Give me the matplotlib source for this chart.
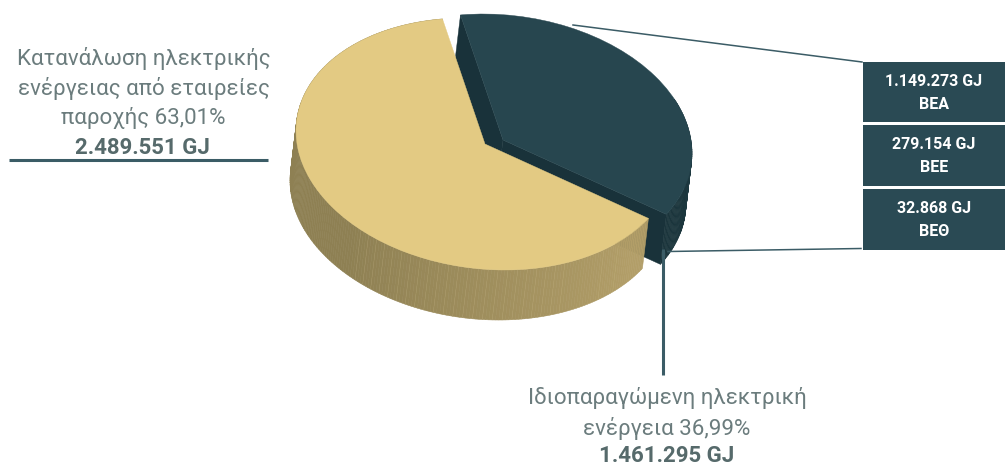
import numpy as np
import matplotlib
matplotlib.use("Agg")
import matplotlib.pyplot as plt
from matplotlib.patches import Wedge, Polygon, Rectangle
from matplotlib.transforms import Affine2D
from matplotlib.colors import to_rgb

# ---------- data ----------
shares = [63.01, 36.99]
slice_colors = ['#e3ca83', '#27464f']
left_label = ['Κατανάλωση ηλεκτρικής', 'ενέργειας από εταιρείες', 'παροχής 63,01%']
left_value = '2.489.551 GJ'
bottom_label = ['Ιδιοπαραγώμενη ηλεκτρική', 'ενέργεια 36,99%']
bottom_value = '1.461.295 GJ'
box_values = ['1.149.273 GJ', '279.154 GJ', '32.868 GJ']
box_names = ['ΒΕΑ', 'ΒΕΕ', 'ΒΕΘ']

# ---------- layout (pixels) ----------
W, H = 1005, 465
CX, CY = 485, 144          # apex of the yellow slice
RX, RY, SKEW = 189, 125.3, 13.2
DEPTH = np.array([-6, 50])
EXPLODE = (18, -4)
START = 103
GREY = '#566a6b'
GREY_LIGHT = '#6b7c7d'
LINE = '#3b5c66'
BOX = '#2a4a54'
FONT = 'Roboto'

fig = plt.figure(figsize=(W / 100, H / 100), dpi=100)
ax = fig.add_axes([0, 0, 1, 1])
ax.set_xlim(0, W)
ax.set_ylim(H, 0)
ax.axis('off')


def project(theta, center):
    t = np.radians(theta)
    u, v = np.cos(t), np.sin(t)
    return np.array([center[0] + RX * u, center[1] + SKEW * u - RY * v])


def top_wedge(center, t1, t2, color, z):
    tr = Affine2D.from_values(RX, SKEW, 0, -RY, center[0], center[1]) + ax.transData
    w = Wedge((0, 0), 1, t1, t2, facecolor=color, edgecolor=color, lw=0.3, transform=tr, zorder=z)
    ax.add_patch(w)


def wall(center, t1, t2, color_fn, z, step=1.0):
    th = np.arange(t1, t2 + step, step)
    for a, b in zip(th[:-1], th[1:]):
        p, q = project(a, center), project(min(b, t2), center)
        c = color_fn(a)
        ax.add_patch(Polygon([p, q, q + DEPTH, p + DEPTH], closed=True, facecolor=c,
                             edgecolor=c, lw=0.4, zorder=z))


def seam(center, theta, color, alpha, z):
    p = project(theta, center)
    ax.plot([p[0], p[0] + DEPTH[0]], [p[1], p[1] + DEPTH[1]], color=color,
            lw=0.4, alpha=alpha, zorder=z)


def yellow_shade(theta):
    f = np.clip((theta - 225) / (322 - 225), 0, 1)
    a, b = np.array(to_rgb('#8e8053')), np.array(to_rgb('#b29e68'))
    return tuple(a + (b - a) * f)


# ---------- pie ----------
sweep = 360 * shares[0] / sum(shares)
end = START + sweep
dark_center = (CX + EXPLODE[0], CY + EXPLODE[1])
apex_d = np.array(dark_center)
dark_wall = '#19323a'

# dark slice: inner walls, outer wall, top
for t in (START, end):
    p = project(t, dark_center)
    ax.add_patch(Polygon([apex_d, p, p + DEPTH, apex_d + DEPTH], closed=True,
                         facecolor=dark_wall, edgecolor=dark_wall, lw=0.3, zorder=1))
wall(dark_center, end, 385, lambda t: '#1b353c', 1)
for t in np.arange(end + 3, 362, 3):
    seam(dark_center, t, '#27464f', 0.25, 1.5)
top_wedge(dark_center, end, START + 360, slice_colors[1], 2)

# connector lines sit behind the yellow slice but over the dark one
ax.plot([573, 862], [25, 62], color=LINE, lw=1.1, zorder=3)
ax.plot([668, 861], [251.5, 248.5], color=LINE, lw=1.1, zorder=3)

# yellow slice
wall((CX, CY), START, end, yellow_shade, 4)
for t in np.append(np.arange(229, 296, 3), [309, 315]):
    seam((CX, CY), t, '#d9c690', 0.22, 4.5)
top_wedge((CX, CY), START, end, slice_colors[0], 5)

# ---------- leader lines ----------
ax.plot([663, 663], [249, 375], color=LINE, lw=2.2, solid_capstyle='butt', zorder=6)
ax.plot([9, 268], [160.5, 160.5], color=LINE, lw=2.2, solid_capstyle='butt', zorder=6)

# ---------- boxes ----------
box_tops = [62, 125, 189]
for top, val, name in zip(box_tops, box_values, box_names):
    ax.add_patch(Rectangle((863, top), 142, 60.5, facecolor=BOX, edgecolor='none', zorder=6))
    ax.text(934, top + 19, val, ha='center', va='center', color='white', fontsize=11.5,
            family=FONT, weight='bold', zorder=7)
    ax.text(934, top + 42.5, name, ha='center', va='center', color='white', fontsize=11.5,
            family=FONT, weight='bold', zorder=7)

# ---------- labels ----------
for y, s in zip([59, 88, 118], left_label):
    ax.text(143.5, y, s, ha='center', va='center', color=GREY_LIGHT, fontsize=16,
            family=FONT, weight='normal')
ax.text(142, 147.5, left_value, ha='center', va='center', color=GREY, fontsize=16,
        family=FONT, weight='bold')
for y, s in zip([398, 428], bottom_label):
    ax.text(667, y, s, ha='center', va='center', color=GREY_LIGHT, fontsize=16,
            family=FONT, weight='normal')
ax.text(667, 455.5, bottom_value, ha='center', va='center', color=GREY, fontsize=16,
        family=FONT, weight='bold')

fig.savefig('out.png', dpi=100)
